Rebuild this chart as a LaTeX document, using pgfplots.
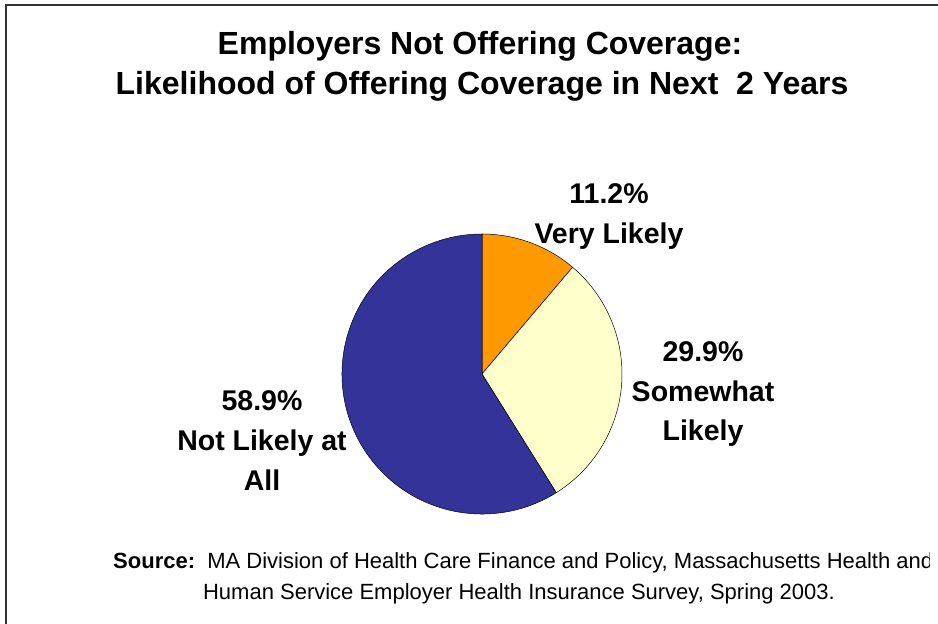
\documentclass[border=0pt]{standalone}
\usepackage{pgfplots}
\pgfplotsset{compat=1.18}
\usepackage{pgfplotstable}
\usepackage{fontspec}
\setmainfont{Liberation Sans}
\definecolor{SliceOrange}{HTML}{FF9900}
\definecolor{SliceCream}{HTML}{FFFFCC}
\definecolor{SliceBlue}{HTML}{333399}

% share of employers, clockwise from 12 o'clock
\pgfplotstableread{
share colour
11.2 SliceOrange
29.9 SliceCream
58.9 SliceBlue
}\piedata

\begin{document}
\begin{tikzpicture}
\useasboundingbox (0,0) rectangle (938pt,624pt);
\begin{axis}[
  anchor=south west, at={(0pt,0pt)},
  scale only axis, width=938pt, height=624pt,
  xmin=0, xmax=938, ymin=0, ymax=624,
  hide axis, clip=false
]
  \pgfmathsetmacro\cum{0}
  \pgfplotsforeachungrouped \i in {0,1,2}{
    \pgfplotstablegetelem{\i}{share}\of\piedata \let\val\pgfplotsretval
    \pgfplotstablegetelem{\i}{colour}\of\piedata \let\col\pgfplotsretval
    \pgfmathsetmacro\sa{90-3.6*\cum}
    \pgfmathsetmacro\ea{90-3.6*(\cum+\val)}
    \edef\slice{\noexpand\filldraw[fill=\col, draw=black, line width=0.5pt]
      (axis cs:482,250) -- ++(\sa:140pt) arc[start angle=\sa, end angle=\ea, radius=140pt] -- cycle;}
    \slice
    \pgfmathsetmacro\cum{\cum+\val}
  }

  \begin{scope}[every node/.style={anchor=base, inner sep=0pt, font=\fontsize{32}{38}\selectfont\bfseries}]
    \node at (axis cs:480,569) {Employers Not Offering Coverage:};
    \node at (axis cs:482,529) {Likelihood of Offering Coverage in Next\ \ 2 Years};
  \end{scope}

  \begin{scope}[every node/.style={anchor=base, inner sep=0pt, font=\fontsize{28.5}{34}\selectfont\bfseries}]
    \node at (axis cs:609,420) {11.2\%};
    \node at (axis cs:609,380) {Very Likely};
    \node at (axis cs:703,262) {29.9\%};
    \node at (axis cs:703,222) {Somewhat};
    \node at (axis cs:703,183) {Likely};
    \node at (axis cs:262,213) {58.9\%};
    \node at (axis cs:262,173) {Not Likely at};
    \node at (axis cs:262,133) {All};
  \end{scope}
\end{axis}
\begin{scope}
  \clip (0pt,0pt) rectangle (929pt,624pt);
  \node[anchor=base west, inner sep=0pt, font=\fontsize{22}{26}\selectfont]
    at (113pt,55pt) {\textbf{Source:}\ \ MA Division of Health Care Finance and Policy, Massachusetts Health and};
  \node[anchor=base, inner sep=0pt, font=\fontsize{22}{26}\selectfont]
    at (519pt,24pt) {Human Service Employer Health Insurance Survey, Spring 2003.};
\end{scope}
\draw[line width=2pt, black!80] (6pt,0pt) -- (6pt,619pt) -- (940pt,619pt);
\end{tikzpicture}
\end{document}
